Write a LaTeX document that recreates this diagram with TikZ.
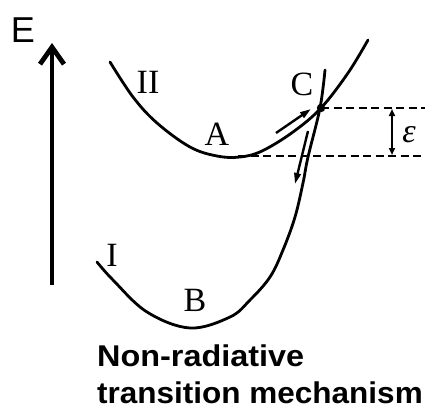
\documentclass[tikz,border=0pt]{standalone}
\usepackage{fontspec}
\setmainfont{Liberation Serif}
\newfontfamily\sansfont{Liberation Sans}
\usetikzlibrary{arrows.meta}
\begin{document}
\begin{tikzpicture}[x=1pt,y=-1pt,
  curve/.style={line width=2.8pt, line cap=round, line join=round},
  lab/.style={font=\fontsize{34}{34}\selectfont, inner sep=0pt},
  dashln/.style={line width=2pt, dash pattern=on 8pt off 4.5pt},
  smallarrow/.style={line width=2.4pt, -{Triangle[length=11pt,width=6.5pt]}},
  title/.style={font=\sansfont\bfseries\fontsize{30}{30}\selectfont, inner sep=0pt, anchor=base west}]
\useasboundingbox (0,0) rectangle (436,408);
% energy axis
\node[font=\sansfont\fontsize{36}{36}\selectfont, inner sep=0pt] (E) at (23,30) {E};
\coordinate (ebot) at (52,285);
\coordinate (etop) at (52,43);
\draw[line width=4.8pt, -{Straight Barb[length=17pt,width=24pt]}] (ebot) -- (etop);
% curve II
\draw[curve] plot[smooth, tension=0.6] coordinates {(110,62) (133,97) (157,123) (190,147) (217,156) (240,157) (262,151) (293,132) (321,108) (348,73) (368,40)};
% curve I
\draw[curve] plot[smooth, tension=0.6] coordinates {(97,262) (113,280) (147,312) (190,328) (230,317) (250,300) (270,277) (283,250) (295,217) (303,183) (308,157) (320,108) (325,70)};
% crossing point
\coordinate (Cpt) at (321,108);
\fill (Cpt) circle (4.2pt);
% dashed levels
\coordinate (up1) at (425,108);
\coordinate (lo0) at (238,156);
\coordinate (lo1) at (425,156);
\draw[dashln] (Cpt) -- (up1);
\draw[dashln] (lo0) -- (lo1);
% epsilon arrow
\coordinate (eps1) at (392,109);
\coordinate (eps2) at (392,155);
\draw[line width=1.9pt, {Triangle[length=7pt,width=6pt]}-{Triangle[length=7pt,width=6pt]}] (eps1) -- (eps2);
\node[font=\itshape\fontsize{34}{34}\selectfont, inner sep=0pt] (eps) at (409,135) {ε};
% small arrows
\coordinate (ua0) at (276,133);
\coordinate (ua1) at (311,109);
\draw[smallarrow] (ua0) -- (ua1);
\coordinate (da0) at (308,131);
\coordinate (da1) at (295,184);
\draw[smallarrow] (da0) -- (da1);
% labels
\node[lab] (II) at (148,82) {II};
\node[lab] (A) at (217,134) {A};
\node[lab] (C) at (302,84) {C};
\node[lab] (I) at (112,255) {I};
\node[lab] (B) at (195,300) {B};
% title
\node[title] (t1) at (97,366) {\scalebox{1.08}[1]{Non-radiative}};
\node[title] (t2) at (97,403) {\scalebox{1.05}[1]{transition mechanism}};
\end{tikzpicture}
\end{document}
